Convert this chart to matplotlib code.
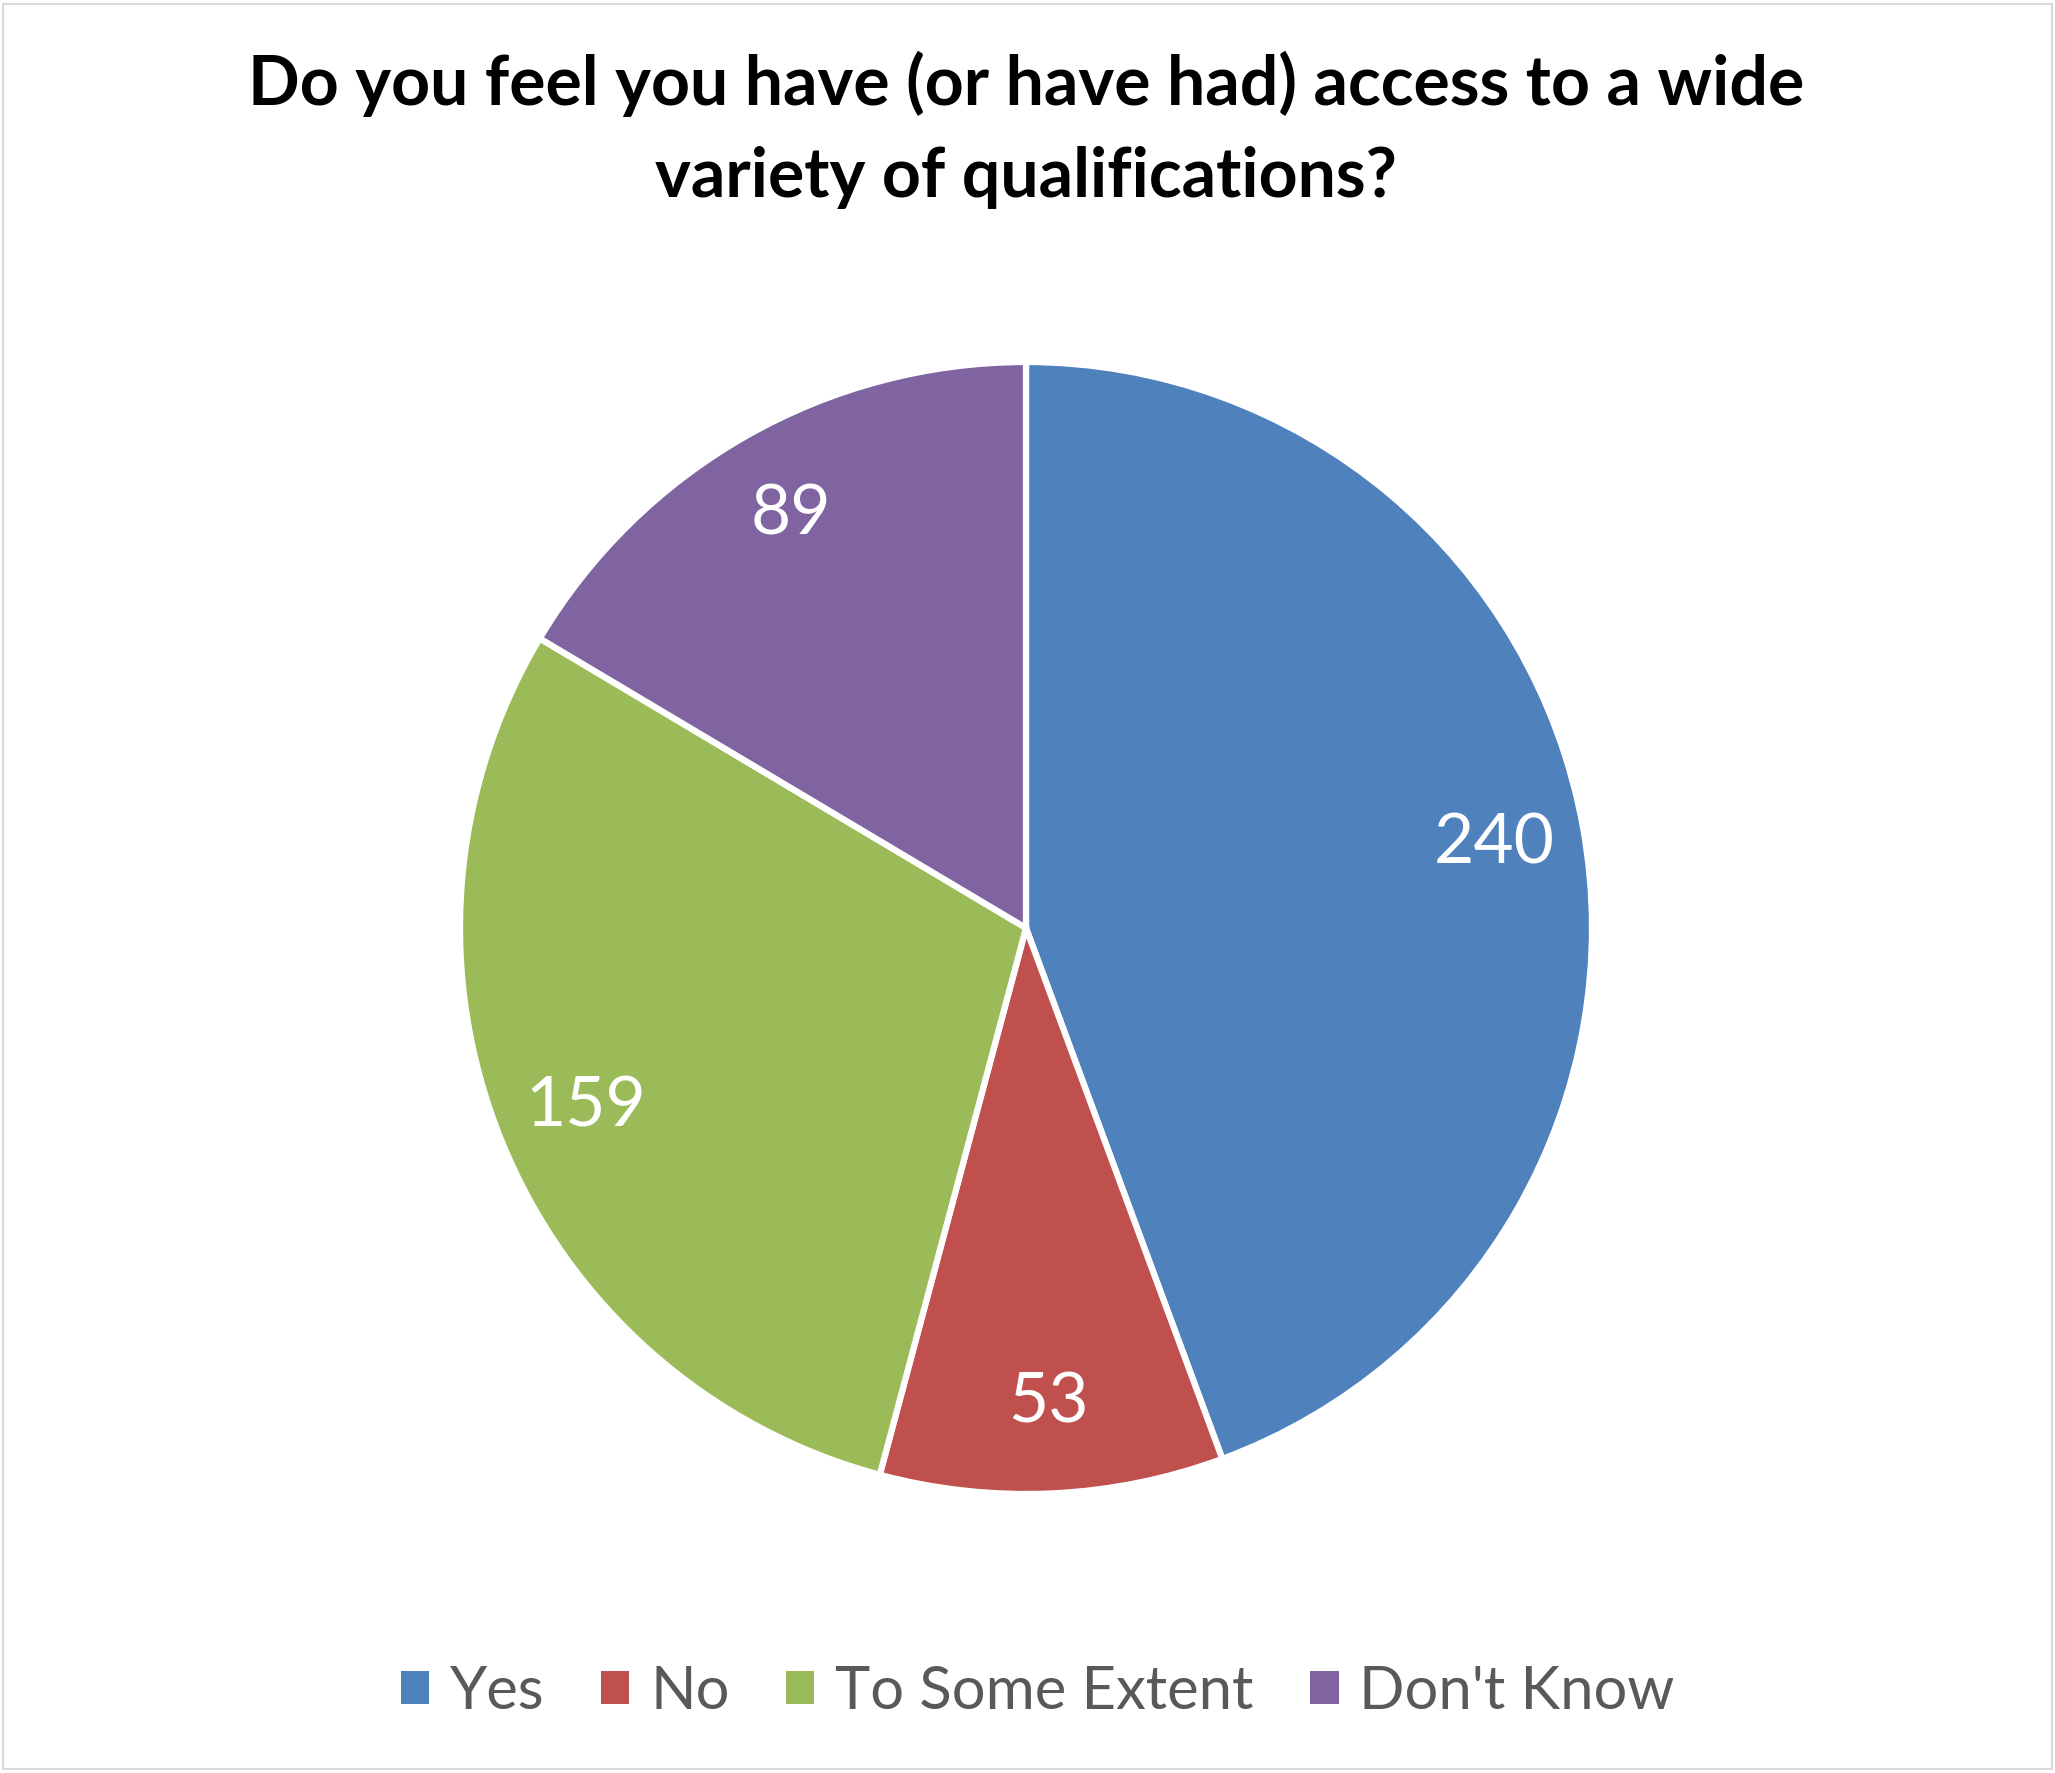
import matplotlib.pyplot as plt
from matplotlib.patches import Patch, Rectangle

# data
categories = ["Yes", "No", "To Some Extent", "Don't Know"]
counts = [240, 53, 159, 89]
colors = ["#4F81BD", "#C0504D", "#9BBB59", "#8064A2"]

title_lines = [
    "Do you feel you have (or have had) access to a wide",
    "variety of qualifications?",
]

plt.rcParams["font.family"] = ["Lato", "DejaVu Sans"]

W, H, DPI = 2055, 1773, 100
fig = plt.figure(figsize=(W / DPI, H / DPI), dpi=DPI)
fig.patch.set_facecolor("white")

# thin grey frame round the whole chart area
fig.add_artist(Rectangle((0.0015, 0.002), 0.997, 0.996, transform=fig.transFigure,
                         fill=False, edgecolor="#D9D9D9", linewidth=1.5))

# pie centre at (1026, 928) px, radius 566 px
cx, cy, r = 1026, 928, 566
ax = fig.add_axes([(cx - r) / W, (H - cy - r) / H, 2 * r / W, 2 * r / H])

wedges, texts = ax.pie(
    counts,
    colors=colors,
    startangle=90,
    counterclock=False,
    radius=1.0,
    labels=[str(c) for c in counts],
    labeldistance=0.84,
    wedgeprops=dict(edgecolor="white", linewidth=4.5),
    textprops=dict(color="white", fontsize=50),
)
for t in texts:
    t.set_horizontalalignment("center")
    t.set_verticalalignment("center")

# pie() resets the limits, so pin them afterwards
ax.set_xlim(-1, 1)
ax.set_ylim(-1, 1)
ax.set_aspect("equal")
ax.axis("off")

# title, two centred lines
fig.text(0.4993, (H - 105) / H, title_lines[0], ha="center", va="baseline",
         fontsize=49, fontweight="bold", color="black")
fig.text(0.4993, (H - 197) / H, title_lines[1], ha="center", va="baseline",
         fontsize=49, fontweight="bold", color="black")

handles = [Patch(facecolor=c, edgecolor="none") for c in colors]
fig.legend(
    handles, categories,
    loc="center", bbox_to_anchor=(0.505, (H - 1692) / H),
    ncol=4, frameon=False, fontsize=43,
    handlelength=0.47, handleheight=0.47, handletextpad=0.35,
    columnspacing=0.95, labelcolor="#595959",
)

fig.savefig("out.png", dpi=DPI)
